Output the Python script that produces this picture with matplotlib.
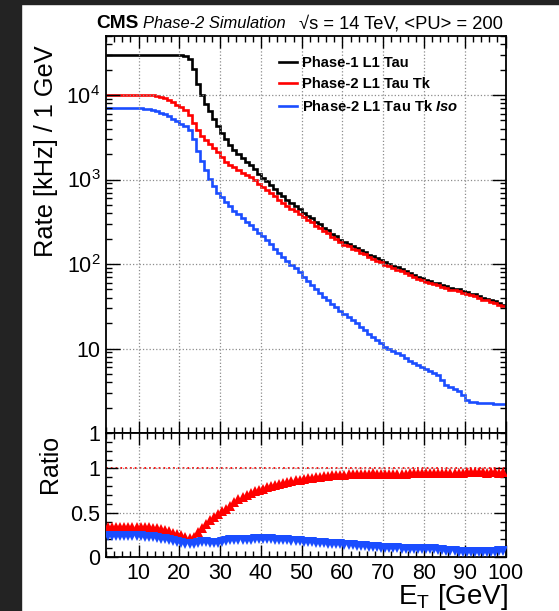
# -*- coding: utf-8 -*-
''' L1 tau trigger rates, Phase-1 vs Phase-2, with ratio panel '''

import numpy as np
import matplotlib.pyplot as plt
from matplotlib.patches import Rectangle
from matplotlib.ticker import MultipleLocator, LogLocator, NullFormatter

plt.rcParams['font.family'] = ['Liberation Sans', 'DejaVu Sans']
plt.rcParams['mathtext.fontset'] = 'custom'
plt.rcParams['mathtext.rm'] = 'Liberation Sans'
plt.rcParams['mathtext.it'] = 'Liberation Sans:italic'
plt.rcParams['mathtext.bf'] = 'Liberation Sans:bold'
plt.rcParams['mathtext.bfit'] = 'Liberation Sans:bold:italic'
plt.rcParams['mathtext.default'] = 'regular'

# 1 GeV bins from 2 to 100 GeV
et_edges = np.arange(2, 101)

# rate in kHz per bin (bins 2..99)
phase1_rate = [
    30000, 30000, 30000, 30000, 30000, 30000, 30000, 30000, 30000, 30000,
    30000, 30000, 30000, 30000, 30000, 30000, 29900, 29700, 29400, 28700,
    26900, 20400, 13500, 10000, 7900, 6400, 5200, 4300, 3550, 3020,
    2570, 2240, 2000, 1780, 1620, 1480, 1320, 1170, 1050, 955,
    870, 776, 692, 631, 575, 525, 490, 447, 407, 372,
    347, 316, 295, 269, 251, 229, 214, 195, 182, 174,
    162, 155, 145, 138, 129, 123, 117, 112, 105, 100,
    95.5, 91.2, 87.1, 83.2, 77.6, 74.1, 70.8, 67.6, 64.6, 63.1,
    60.3, 58.9, 56.2, 55.0, 52.5, 51.3, 50.1, 47.9, 46.8, 44.7,
    43.7, 41.7, 39.8, 38.9, 37.2, 36.3, 34.7, 33.1,
]
phase2_tk_rate = [
    10050, 10050, 10050, 10050, 10050, 10050, 10050, 10050, 10050, 10050,
    9990, 9900, 9750, 9450, 9150, 8700, 8220, 7720, 7200, 6600,
    5780, 4700, 3810, 3260, 2900, 2640, 2370, 2100, 1850, 1630,
    1490, 1390, 1300, 1210, 1130, 1070, 977, 889, 809, 754,
    696, 632, 574, 530, 489, 452, 424, 391, 358, 331,
    311, 284, 267, 245, 230, 211, 198, 181, 169, 163,
    151, 145, 136, 130, 121, 116, 110, 105, 98.7, 94.0,
    89.8, 85.7, 81.9, 78.2, 73.3, 70.0, 66.9, 63.9, 61.0, 59.9,
    57.3, 56.0, 53.4, 52.3, 49.9, 48.7, 47.6, 45.5, 44.7, 42.7,
    41.7, 39.8, 38.0, 37.1, 35.5, 34.7, 33.1, 31.6,
]
phase2_iso_rate = [
    6950, 6950, 6950, 6950, 6950, 6950, 6950, 6950, 6950, 6900,
    6800, 6650, 6450, 6200, 5950, 5600, 5250, 4900, 4600, 4250,
    3900, 3000, 2150, 1650, 1300, 1020, 830, 700, 620, 545,
    480, 430, 390, 350, 318, 290, 262, 236, 212, 191,
    172, 152, 134, 120, 108, 97, 89, 80, 71, 63,
    57, 51, 46, 41, 37.5, 34, 31, 28, 25.5, 23.5,
    21.5, 20, 18, 16.5, 15, 13.8, 12.7, 11.6, 10.5, 9.8,
    9.3, 8.8, 8.3, 7.8, 7.2, 6.8, 6.4, 6.0, 5.7, 5.4,
    5.1, 4.9, 4.2, 3.7, 3.5, 3.3, 3.1, 2.8, 2.45, 2.35,
    2.3, 2.28, 2.26, 2.25, 2.24, 2.22, 2.21, 2.2,
]

series_labels = ['Phase-1 L1 Tau', 'Phase-2 L1 Tau Tk',
                 'Phase-2 L1 Tau Tk $\\mathbfit{Iso}$']
y_ticks = [1, 10, 100, 1000, 10000]
y_ticklabels = ['1', '10', '$10^{2}$', '$10^{3}$', '$10^{4}$']

BLUE = '#1a4dff'

fig = plt.figure(figsize=(5.59, 6.11), dpi=100)
# dark border of the screenshot
fig.patches.append(Rectangle((0, 0), 21 / 559, 1, transform=fig.transFigure,
                             color='#232323', zorder=-1))
fig.patches.append(Rectangle((0, 1 - 4 / 611), 1, 4 / 611, transform=fig.transFigure,
                             color='#232323', zorder=-1))

ax = fig.add_axes([0.1896, 0.2913, 0.7147, 0.6498])
rax = fig.add_axes([0.1896, 0.0884, 0.7147, 0.2029], sharex=ax)

# main panel
ax.stairs(phase1_rate, et_edges, baseline=None, color='black', lw=1.9, label=series_labels[0])
ax.stairs(phase2_tk_rate, et_edges, baseline=None, color='red', lw=1.9, label=series_labels[1])
ax.stairs(phase2_iso_rate, et_edges, baseline=None, color=BLUE, lw=1.9, label=series_labels[2])
ax.set_yscale('log')
ax.set_ylim(1, 5e4)
ax.set_xlim(2, 100)
ax.set_yticks(y_ticks)
ax.set_yticklabels(y_ticklabels)
ax.yaxis.set_minor_locator(LogLocator(base=10, subs=np.arange(2, 10), numticks=20))
ax.yaxis.set_minor_formatter(NullFormatter())
ax.grid(True, which='major', ls=':', color='#8c8c8c', lw=0.9)
ax.tick_params(axis='x', which='both', labelbottom=False)

ax.legend(loc='upper left', bbox_to_anchor=(0.499, 0.9083), bbox_transform=fig.transFigure,
          frameon=False, borderpad=0, borderaxespad=0, handlelength=1.25,
          handletextpad=0.3, labelspacing=0.5, prop={'weight': 'bold', 'size': 10.6})

# ratio panel
centers = (et_edges[:-1] + et_edges[1:]) / 2
ratio_tk = np.array(phase2_tk_rate) / np.array(phase1_rate)
ratio_iso = np.array(phase2_iso_rate) / np.array(phase1_rate)
rax.axhline(1, color='red', ls=':', lw=1.3, zorder=1)
rax.plot(centers, ratio_tk, ls='none', marker='^', ms=7.5, mew=0, color='red', zorder=3)
rax.plot(centers, ratio_iso, ls='none', marker='v', ms=6.5, mew=0, color=BLUE, zorder=4)
rax.set_ylim(0, 1.4)
rax.set_yticks([0, 0.5, 1])
rax.set_yticklabels(['0', '0.5', '1'])
rax.yaxis.set_minor_locator(MultipleLocator(0.1))
rax.set_xticks(range(10, 101, 10))
rax.xaxis.set_minor_locator(MultipleLocator(2))
rax.grid(True, which='major', ls=':', color='#8c8c8c', lw=0.9)

for a in (ax, rax):
    a.tick_params(which='both', direction='in', top=True, right=True,
                  labelsize=15.5, width=1.0, color='black')
    a.tick_params(which='major', length=8.5, pad=4)
    a.tick_params(which='minor', length=4.5)
    for s in a.spines.values():
        s.set_linewidth(1.3)
ax.tick_params(axis='y', which='major', length=10)

# titles and axis labels
fig.text(96 / 559, 1 - 28.5 / 611, 'CMS', fontsize=13.8, fontweight='bold', va='baseline')
fig.text(143 / 559, 1 - 28.5 / 611, 'Phase-2 Simulation', fontsize=11.9, style='italic',
         va='baseline')
fig.text(503 / 559, 1 - 28.5 / 611, '\u221as = 14 TeV, <PU> = 200', fontsize=13.2,
         ha='right', va='baseline')
fig.text(46 / 559, 1 - 45 / 611, 'Rate [kHz] / 1 GeV', fontsize=18.3, rotation=90,
         ha='center', va='top')
fig.text(50 / 559, 1 - 435 / 611, 'Ratio', fontsize=18, rotation=90, ha='center', va='top')
fig.text(508 / 559, 1 - 582 / 611, '$E_{T}$ [GeV]', fontsize=20, ha='right', va='top')

fig.savefig('out.png', dpi=100)
